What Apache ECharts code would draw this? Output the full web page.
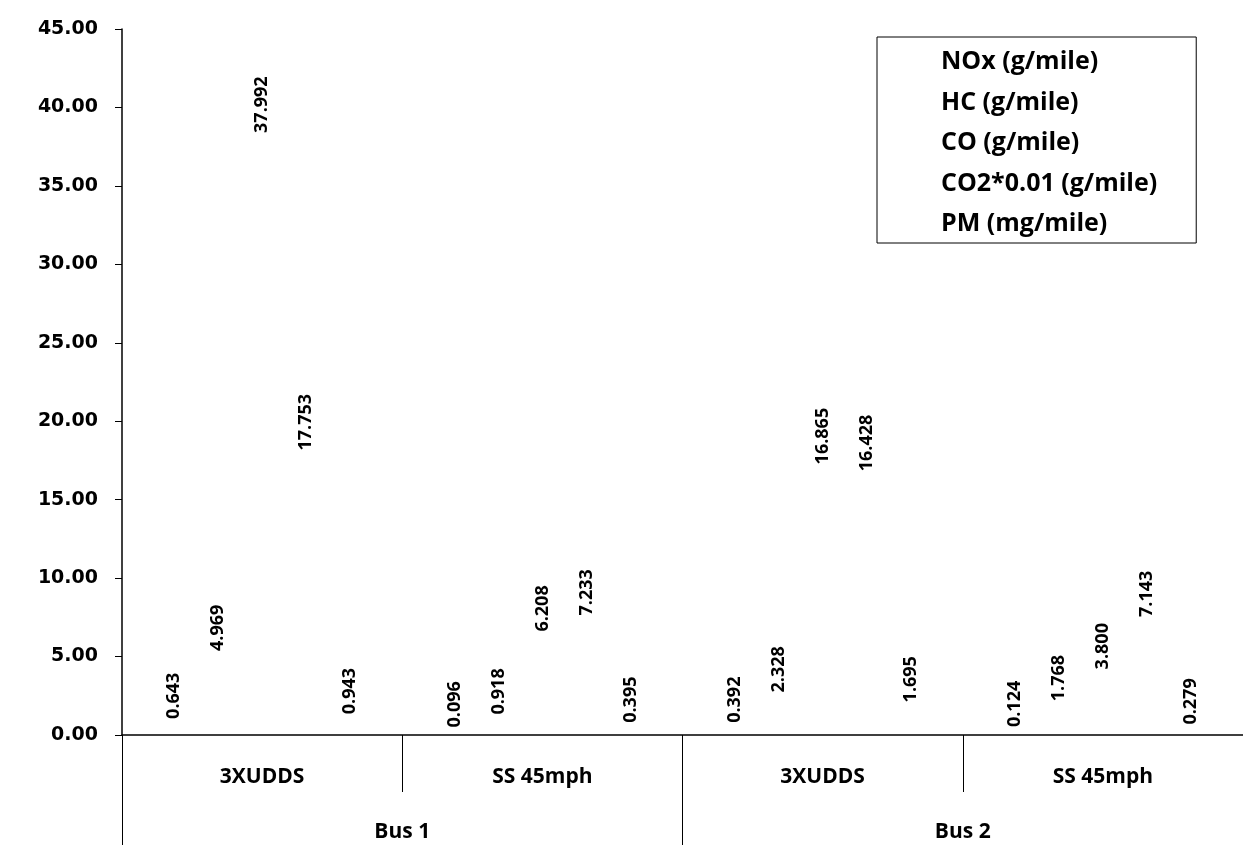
<!DOCTYPE html>
<html>
<head>
<meta charset="utf-8">
<script src="https://cdn.jsdelivr.net/npm/echarts@6/dist/echarts.min.js"></script>
<style>html,body{margin:0;padding:0;background:#fff}#c{width:1243px;height:845px}</style>
</head>
<body>
<div id="c"></div>
<script>
const tests = ['3XUDDS', 'SS 45mph', '3XUDDS', 'SS 45mph'];
const buses = ['Bus 1', 'Bus 2'];
const seriesNames = ['NOx (g/mile)', 'HC (g/mile)', 'CO (g/mile)', 'CO2*0.01 (g/mile)', 'PM (mg/mile)'];
const nox = [0.643, 0.096, 0.392, 0.124];
const hc = [4.969, 0.918, 2.328, 1.768];
const co = [37.992, 6.208, 16.865, 3.800];
const co2 = [17.753, 7.233, 16.428, 7.143];
const pm = [0.943, 0.395, 1.695, 0.279];
const yTicks = [0, 5, 10, 15, 20, 25, 30, 35, 40, 45];

const labelFont = '"Open Sans", Lato, sans-serif';
const allData = [nox, hc, co, co2, pm];

const chart = echarts.init(document.getElementById('c'), null, {renderer: 'canvas'});
chart.setOption({
  animation: false,
  backgroundColor: '#fff',
  grid: {left: 122, right: 0, top: 29, bottom: 110, containLabel: false},
  legend: {
    orient: 'vertical',
    left: 877, top: 37,
    data: seriesNames,
    itemWidth: 50, itemHeight: 10, itemGap: 12.5,
    icon: 'rect',
    borderColor: '#000', borderWidth: 1,
    padding: [11, 39, 5, 9],
    textStyle: {fontFamily: labelFont, fontWeight: 'bold', fontSize: 25, lineHeight: 28, color: '#000'}
  },
  xAxis: [
    {
      type: 'category', data: tests, position: 'bottom',
      axisLine: {lineStyle: {color: '#000', width: 1.5}},
      axisTick: {show: true, length: 57, interval: 0, lineStyle: {color: '#000', width: 1}},
      axisLabel: {interval: 0, margin: 32, fontFamily: labelFont, fontWeight: 'bold', fontSize: 21, color: '#000'}
    },
    {
      type: 'category', data: buses, position: 'bottom', offset: 0,
      axisLine: {show: false},
      axisTick: {show: true, length: 110, interval: 0, lineStyle: {color: '#000', width: 1}},
      axisLabel: {interval: 0, margin: 87, fontFamily: labelFont, fontWeight: 'bold', fontSize: 21, color: '#000'}
    }
  ],
  yAxis: {
    type: 'value', min: 0, max: 45, interval: 5,
    splitLine: {show: false},
    axisLine: {show: true, lineStyle: {color: '#000', width: 1.5}},
    axisTick: {show: true, length: 7, lineStyle: {color: '#000', width: 1}},
    axisLabel: {margin: 24, fontFamily: '"DejaVu Sans", sans-serif', fontWeight: 'bold', fontSize: 19, color: '#000',
      formatter: v => v.toFixed(2)}
  },
  series: seriesNames.map((name, i) => ({
    name, type: 'bar', xAxisIndex: 0,
    data: allData[i],
    barWidth: 22, barGap: '100%',
    itemStyle: {color: 'rgba(0,0,0,0)'},
    label: {
      show: true, position: 'top', rotate: 90, align: 'left', verticalAlign: 'middle', distance: 6,
      fontFamily: labelFont, fontWeight: 'bold', fontSize: 18, color: '#000',
      formatter: p => p.value.toFixed(3)
    }
  }))
});
</script>
</body>
</html>
